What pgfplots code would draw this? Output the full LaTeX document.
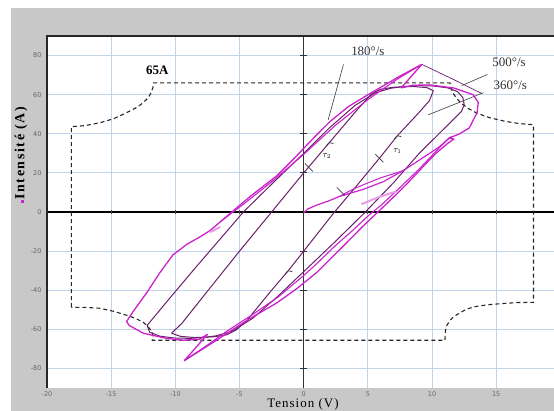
\documentclass[border=0pt]{standalone}
\usepackage{pgfplots}
\pgfplotsset{compat=1.18}
\usepackage{fontspec}
\setmainfont{Liberation Serif}
\newfontfamily\tickfont{DejaVu Sans}
\definecolor{mag}{RGB}{204,34,204}
\definecolor{pur}{RGB}{108,32,108}
\definecolor{gridblue}{RGB}{192,212,234}
\definecolor{bg}{RGB}{200,200,200}
\definecolor{ann}{RGB}{60,60,60}
\begin{document}
\begin{tikzpicture}
\useasboundingbox (0,0) rectangle (554bp,411bp);
\fill[bg] (11bp,0bp) rectangle (554bp,403bp);
\begin{axis}[
  at={(47bp,23bp)}, anchor=south west,
  scale only axis, width=507bp, height=352bp,
  xmin=-20, xmax=19.5, ymin=-90, ymax=90,
  axis background/.style={fill=white},
  axis line style={draw=none},
  major tick length=0pt,
  xtick={-20,-15,...,15}, ytick={-80,-60,...,80},
  xticklabels={-20,-15,-10,-5,0,5,10,15},
  yticklabels={-80,-60,-40,-20,0,20,40,60,80},
  ticklabel style={font=\tickfont\fontsize{6.5}{7}\selectfont, text=black!60},
  xticklabel style={yshift=0bp},
  yticklabel style={xshift=-2bp},
  grid=major, major grid style={gridblue, line width=0.9bp},
  clip=false,
]
% axes lines
\draw[black, line width=1.1bp] (axis cs:-20,0) -- (axis cs:19.5,0);
\draw[black!80, line width=0.9bp] (axis cs:0,-90) -- (axis cs:0,90);
\pgfplotsinvokeforeach{-80,-60,-40,-20,20,40,60,80}{
  \draw[black!80, line width=0.9bp] (axis cs:0,#1) ++(-3.5bp,0bp) -- ++(7bp,0bp);
}
\pgfplotsinvokeforeach{-15,-10,-5,5,10,15}{
  \draw[black!70, line width=0.8bp] (axis cs:#1,0) ++(0bp,-2bp) -- ++(0bp,4bp);
}
% frame
\draw[black!85, line width=1.5bp] (axis cs:-20,-90) -- (axis cs:-20,90) -- (axis cs:19.5,90);

% power limit (dashed)
\addplot[black!85, line width=1.1bp, dash pattern=on 4bp off 3bp] coordinates {
(-18.1,-48.7) (-18.1,43.6) (-17,44.2) (-15.9,45.6) (-14.8,47.7) (-13.8,50.8) (-13.0,53.5) (-12.5,55.9) (-12.1,58.5) (-11.9,61) (-11.75,63.5) (-11.7,66)
(11.4,66) (11.5,63.5) (11.6,61) (11.9,58.3) (12.2,56) (12.8,53) (13.5,50.5) (14.5,48.2) (15.6,46.5) (16.7,45.3) (17.9,44.6)
(17.9,-46.2) (16.7,-46.3) (15.5,-46.8) (14.4,-47.4) (13.5,-48.2) (12.7,-49.6) (12.2,-51.5) (11.7,-53.4) (11.4,-55.4) (11.15,-58) (11.05,-60.5) (11.0,-65.6)
(-11.8,-65.6) (-11.75,-63.5) (-11.8,-61.5) (-12.1,-58.8) (-12.5,-56.4) (-13.1,-54.4) (-13.8,-52.8) (-14.8,-50.8) (-15.9,-49.2) (-17,-48.8) (-18.1,-48.7)};

% inner purple loop (tau lines)
\addplot[pur, line width=1.0bp, line join=round] coordinates {
(-10.3,-62) (-9.5,-57) (-7.5,-40.5) (-5,-20) (-2.5,0) (0,20) (2,35.5) (4,51) (5.3,60.5) (6,62.8) (7,63.8) (8.5,64.2) (9.6,63.6) (10.1,62)
(9.8,57) (9.0,51) (7.3,39) (5.9,27.5) (4.2,14) (2.4,0) (0,-20) (-1.2,-30) (-2.5,-40) (-4.5,-56) (-5.3,-60.5) (-6,-62.8) (-7,-63.8) (-8.5,-64.2) (-9.6,-63.6) (-10.3,-62)};

% second purple loop
\addplot[pur, line width=1.0bp, line join=round] coordinates {
(-12.2,-58) (-10.3,-43) (-8.5,-29) (-6.6,-14.5) (-4.7,0) (-2.3,15.5) (0,30) (2,43) (4,54.5) (5.6,61) (6.8,63.3) (7.6,64)
(8.8,64.6) (10,64.5) (11.2,63.5) (12,61.5) (12.4,58.5) (12.5,55) (12.3,51.5) (11,43) (9,30) (7,15) (4.8,0) (2.4,-15.5) (0,-30.5) (-2,-43) (-4,-54.5) (-5.6,-61) (-6.8,-63.3) (-7.6,-64)
(-8.8,-64.6) (-10,-64.5) (-11.2,-63.5) (-12,-61.5) (-12.2,-58)};

% thin purple line from top tip
\addplot[pur, line width=0.7bp] coordinates {(9.2,75.5) (11.5,68.3) (13.5,61.8) (13.9,60.5)};

% outer magenta loop
\addplot[mag, line width=1.3bp, line join=round] coordinates {
(-13.8,-56) (-13.3,-51) (-12.2,-41) (-11.2,-31) (-10.2,-22) (-9.1,-16.5) (-8.1,-12.8) (-7.3,-9.5) (-6.4,-4.5) (-5.6,0) (-4.2,7.8) (-2.1,18.5) (-0.8,27) (0.5,36) (2,46) (3.5,54) (5.4,61.5) (7.5,69.5) (9.2,75.5)
(7.6,63.5) (8.5,64.8) (9.8,65) (11.7,63.4) (13.2,60) (13.6,56) (13.5,50.7) (12.9,43) (12.1,39.8) (11.3,37.8) (11.7,37.3) (11.2,35) (10.3,30) (9.2,22.5) (8.2,15.5) (7.3,9.5) (5.7,-0.5) (4.5,-8) (3.3,-16) (2,-24.5) (1,-31) (-0.5,-39) (-2.1,-46.5) (-4.2,-54.5) (-5.5,-60) (-6.8,-65.6) (-9.3,-76)
(-7.5,-62.6) (-8.1,-65) (-9.4,-65.6) (-10.7,-64.6) (-12.5,-62) (-13.6,-58) (-13.8,-56)};

% second magenta branches
\addplot[mag, line width=1.1bp, line join=round] coordinates {
(-6.5,-5) (-4.5,5) (-2.2,17) (0,29.5) (2.5,44.5) (5,57.5) (7.3,68) (9.2,75.5)};
\addplot[mag, line width=1.1bp, line join=round] coordinates {
(11.3,37.8) (10.3,31) (9,22) (7.5,12.5) (6,3.3) (5.1,-1.5) (3.8,-9.5) (2.5,-17) (1,-26.5) (0,-32.5) (-2,-43.5) (-4,-52.5) (-6,-61) (-7.6,-68.5) (-9.3,-76)};

% start transient (magenta)
\addplot[mag, line width=1.2bp, line join=round] coordinates {
(0,-0.5) (0.3,1.5) (1,3.5) (2,5.8) (2.8,8) (4.6,11.5) (6.2,15.5) (7.7,21) (9,26.5) (10.5,33) (11.5,38.5)};
\addplot[mag, line width=1.0bp] coordinates {(2.8,8) (3.8,11.5) (4.6,13.8) (6,17.5) (7.7,21)};
% faint segments
\addplot[mag!45, line width=2bp] coordinates {(4.5,4) (5.8,7.5) (7.2,10.5)};
\addplot[mag!45, line width=2bp] coordinates {(-7.3,-10.3) (-6.5,-7.7)};

% tau marks
\draw[ann, line width=0.7bp] (axis cs:0.4,22.8) ++(-4bp,4bp) -- ++(8bp,-8bp);
\draw[ann, line width=0.7bp] (axis cs:5.9,27.5) ++(-4bp,4bp) -- ++(8bp,-8bp);
\draw[ann, line width=0.7bp] (axis cs:2.0,35.5) ++(-3bp,-3bp) -- ++(3bp,3bp) -- ++(4bp,-1bp);
\draw[ann, line width=0.7bp] (axis cs:7.3,39) ++(-3bp,-3bp) -- ++(3bp,3bp) -- ++(4bp,-1bp);
\draw[ann, line width=0.7bp] (axis cs:-1.2,-30) ++(-3bp,-3bp) -- ++(3bp,3bp) -- ++(4bp,-1bp);
\draw[ann, line width=0.7bp] (axis cs:2.9,10.5) ++(-4bp,4bp) -- ++(8bp,-8bp);
\node[font=\fontsize{9}{10}\selectfont] at (axis cs:1.8,28.5) {$\tau_2$};
\node[font=\fontsize{9}{10}\selectfont] at (axis cs:7.3,31) {$\tau_1$};

% annotations
\node[font=\fontsize{13}{14}\selectfont\bfseries] at (axis cs:-11.4,72.5) {65A};
\node[font=\fontsize{13}{14}\selectfont, text=black!80] at (axis cs:5.0,82) {180°/s};
\draw[ann, line width=0.6bp] (axis cs:3.1,75.5) -- (axis cs:1.9,47);
\node[font=\fontsize{13}{14}\selectfont, text=black!80] at (axis cs:16.0,76.5) {500°/s};
\draw[ann, line width=0.6bp] (axis cs:14.3,70.3) -- (axis cs:12.3,64.6);
\node[font=\fontsize{13}{14}\selectfont, text=black!80] at (axis cs:16.1,65) {360°/s};
\draw[ann, line width=0.6bp] (axis cs:14.0,61) -- (axis cs:9.7,49.7);
\end{axis}
\node[rotate=90, font=\fontsize{14}{15}\selectfont\bfseries\addfontfeature{LetterSpace=12}] at (21bp,256bp) {\textcolor{mag}{\rule{3.5bp}{3.5bp}}Intensité (A)};
\node[anchor=base, font=\fontsize{13}{14}\selectfont\addfontfeature{LetterSpace=8}] at (303bp,3.5bp) {Tension (V)};
\end{tikzpicture}
\end{document}
